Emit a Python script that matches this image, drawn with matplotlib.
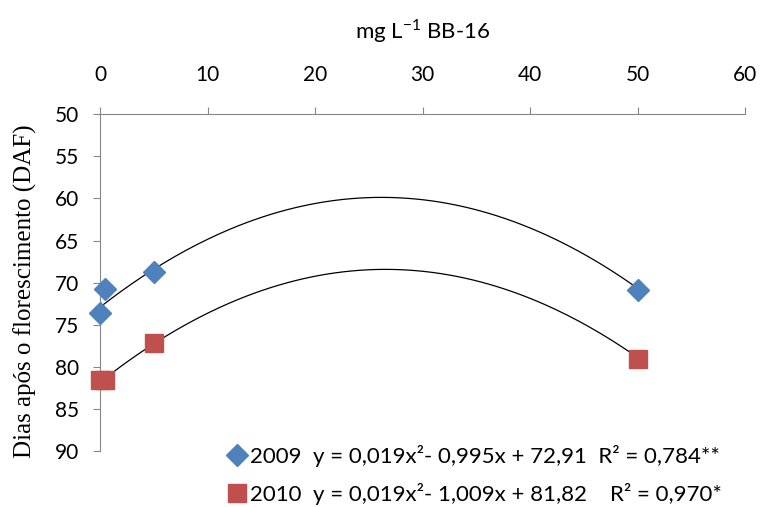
import numpy as np
import matplotlib.pyplot as plt

# dose (mg L-1 BB-16) and days after flowering
dose = [0, 0.5, 5, 50]
daf_2009 = [73.6, 70.8, 68.7, 70.9]
daf_2010 = [81.5, 81.6, 77.2, 79.0]

# trendline coefficients shown in the legend (a*x^2 + b*x + c)
coef_2009 = [0.019, -0.995, 72.91]
coef_2010 = [0.019, -1.009, 81.82]

lab_2009 = "2009  y = 0,019x²- 0,995x + 72,91  R² = 0,784**"
lab_2010 = "2010  y = 0,019x²- 1,009x + 81,82    R² = 0,970*"

BLUE = "#4F81BD"
RED = "#C0504D"
GRAY = "#868686"

plt.rcParams["font.family"] = ["Lato", "DejaVu Sans"]

fig = plt.figure(figsize=(7.6, 5.07), dpi=100)
ax = fig.add_axes([0.1316, 0.110, 0.8487, 0.665])

xs = np.linspace(0, 50, 200)
ax.plot(xs, np.polyval(coef_2009, xs), color="black", linewidth=0.9, zorder=2)
ax.plot(xs, np.polyval(coef_2010, xs), color="black", linewidth=0.9, zorder=2)

ax.plot(dose, daf_2009, linestyle="none", marker="D", markersize=11,
        color=BLUE, label=lab_2009, zorder=3, clip_on=False)
ax.plot(dose, daf_2010, linestyle="none", marker="s", markersize=13.5,
        color=RED, label=lab_2010, zorder=3, clip_on=False)

ax.set_xlim(0, 60)
ax.set_ylim(90, 50)
ax.set_xticks(range(0, 61, 10))
ax.set_yticks(range(50, 91, 5))

ax.xaxis.tick_top()
ax.xaxis.set_label_position("top")
ax.set_xlabel("mg L$^{\\mathregular{-1}}$ BB-16", fontsize=16, labelpad=19)
ax.set_ylabel("Dias após o florescimento (DAF)", fontsize=18,
              family="Liberation Serif", labelpad=13)

for s in ["bottom", "right"]:
    ax.spines[s].set_visible(False)
for s in ["top", "left"]:
    ax.spines[s].set_color(GRAY)
ax.tick_params(axis="x", colors=GRAY, labelcolor="black", direction="out",
               length=5, pad=16, labelsize=15)
ax.tick_params(axis="y", colors=GRAY, labelcolor="black", direction="out",
               length=5, pad=10, labelsize=15)
ax.yaxis.get_label().set_y(0.475)

ax.legend(loc="upper left", bbox_to_anchor=(0.297, 0.122), bbox_transform=fig.transFigure,
          frameon=False, fontsize=16, handletextpad=0.1, labelspacing=0.7,
          borderaxespad=0, borderpad=0, handlelength=1.0)

fig.savefig("out.png", dpi=100)
